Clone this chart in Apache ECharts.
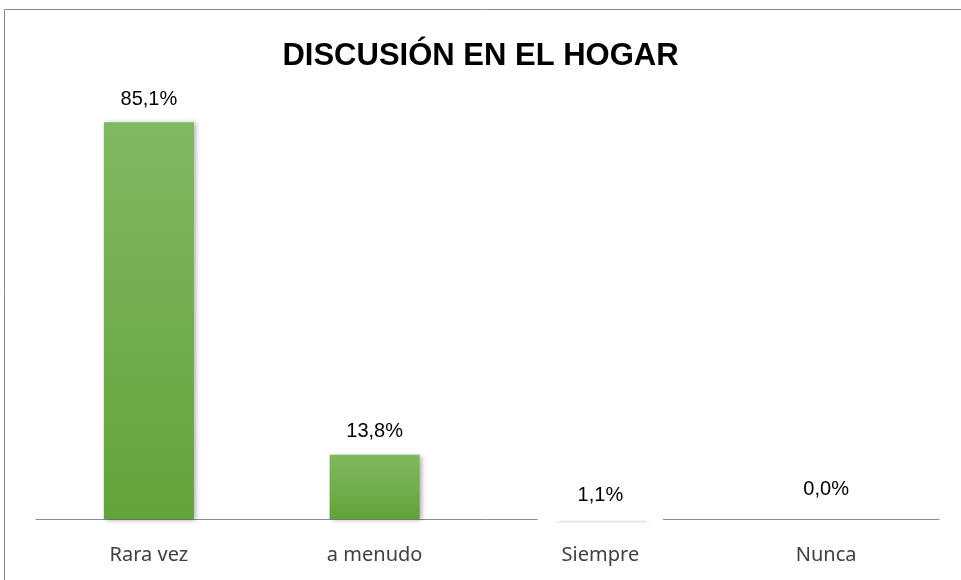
<!DOCTYPE html>
<html>
<head>
<meta charset="utf-8">
<script src="https://cdn.jsdelivr.net/npm/echarts@6/dist/echarts.min.js"></script>
<style>
  html, body { margin: 0; padding: 0; background: #fff; }
  #chart { width: 961px; height: 580px; }
</style>
</head>
<body>
<div id="chart"></div>
<script>
// datos del gráfico
var titulo = 'DISCUSIÓN EN EL HOGAR';
var categorias = ['Rara vez', 'a menudo', 'Siempre', 'Nunca'];
var porcentajes = [85.1, 13.8, 1.1, 0.0];

var myChart = echarts.init(document.getElementById('chart'));

var datos = [];
for (var i = 0; i < porcentajes.length; i++) {
    var item = { value: porcentajes[i] };
    // la etiqueta de "Siempre" tapa la barra con su fondo blanco
    if (categorias[i] === 'Siempre') {
        item.label = {
            backgroundColor: '#fff',
            padding: [9, 40, 15, 40],
            distance: 0,
            offset: [0, 7]
        };
    }
    if (categorias[i] === 'Nunca') {
        item.label = { distance: 20 };
    }
    datos.push(item);
}

var option = {
    backgroundColor: '#fff',
    animation: false,
    title: {
        text: titulo,
        left: 'center',
        top: 36,
        textStyle: {
            fontFamily: 'Liberation Sans, Arial',
            fontWeight: 'bold',
            fontSize: 31,
            color: '#000'
        }
    },
    graphic: [{
        type: 'rect',
        shape: { x: 4.5, y: 9.5, width: 1000, height: 700 },
        style: { fill: 'none', stroke: '#8a8a8a', lineWidth: 1 },
        silent: true
    }],
    grid: { left: 36, right: 22, top: 62, bottom: 61 },
    xAxis: {
        type: 'category',
        data: categorias,
        axisLine: { lineStyle: { color: '#8c8c8c', width: 1 } },
        axisTick: { show: false },
        axisLabel: {
            margin: 26,
            fontFamily: '"Noto Sans", "Open Sans", sans-serif',
            fontSize: 20,
            color: '#404040'
        }
    },
    yAxis: {
        type: 'value',
        min: 0,
        max: 98,
        show: false,
        splitLine: { show: false }
    },
    series: [{
        type: 'bar',
        data: datos,
        barWidth: 90,
        itemStyle: {
            color: new echarts.graphic.LinearGradient(0, 0, 0, 1, [
                { offset: 0, color: '#80b861' },
                { offset: 1, color: '#62a339' }
            ]),
            shadowColor: 'rgba(0,0,0,0.35)',
            shadowBlur: 5,
            shadowOffsetX: 2,
            shadowOffsetY: 1
        },
        label: {
            show: true,
            position: 'top',
            distance: 13,
            fontFamily: 'Liberation Sans, Arial',
            fontSize: 20,
            color: '#000',
            formatter: function (p) {
                return p.value.toFixed(1).replace('.', ',') + '%';
            }
        }
    }]
};

myChart.setOption(option);
</script>
</body>
</html>
